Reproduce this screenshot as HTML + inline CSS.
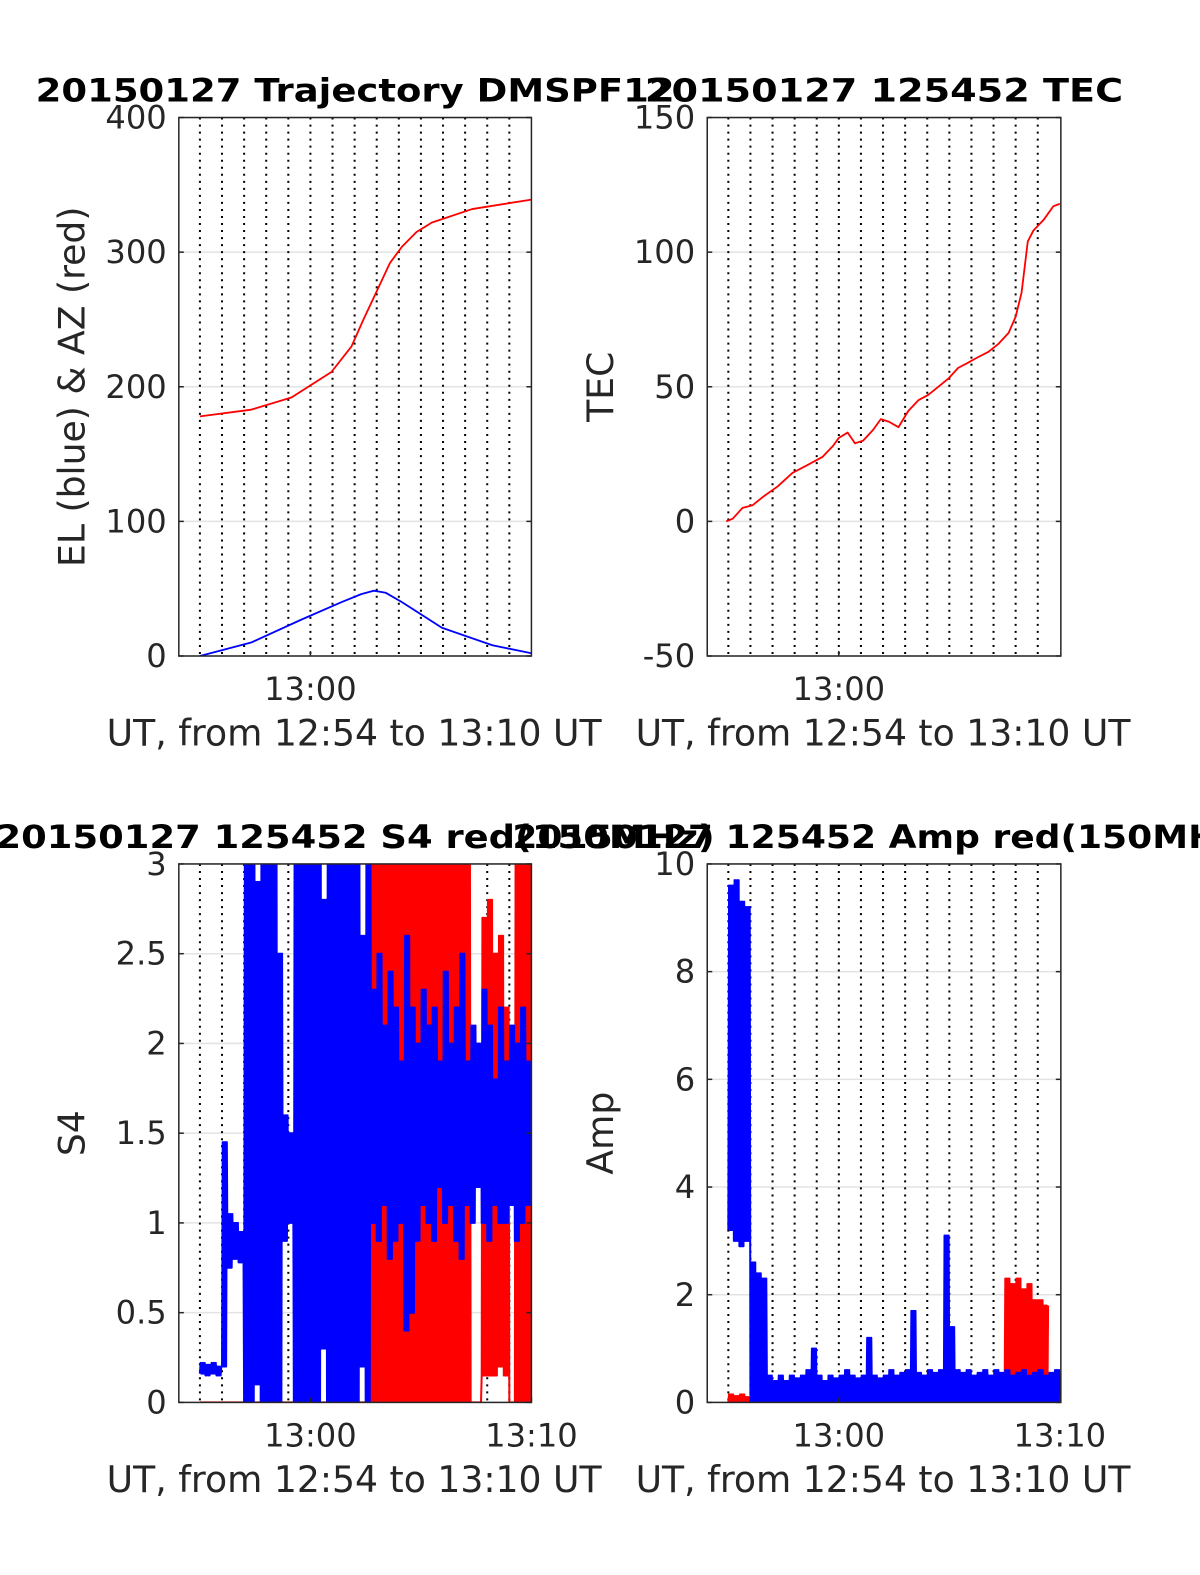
<!DOCTYPE html>
<html><head><meta charset="utf-8"><style>
html,body{margin:0;background:#fff;overflow:hidden;width:1200px;height:1575px;}
svg{display:block;font-family:"DejaVu Sans","Liberation Sans",sans-serif;}
.tk{font-size:32px;fill:#262626;}
.al{font-size:36px;fill:#262626;}
.tt{font-size:32px;font-weight:bold;fill:#000;}
</style></head><body>
<svg id="fig" width="1200" height="1575" viewBox="0 0 1194.5 1567.8" preserveAspectRatio="xMinYMin meet" xmlns="http://www.w3.org/2000/svg">
<defs>
<clipPath id="c1"><rect x="178" y="117" width="351" height="536"/></clipPath>
<clipPath id="c2"><rect x="704" y="117" width="352" height="536"/></clipPath>
<clipPath id="c3"><rect x="178" y="860" width="351" height="536"/></clipPath>
<clipPath id="c4"><rect x="704" y="860" width="352" height="536"/></clipPath>
</defs>
</svg>
<script>
// ---- data (time in minutes relative to 13:00 UT) ----
const azT=[-5,-2.68,-0.86,0.95,1.86,2.4,3,3.6,4.14,4.8,5.5,7.32,10];
const azV=[178,183,192,211,230,250,271,292,304,315,322,332,339];
const elT=[-5,-2.68,-0.41,1.4,2.3,2.86,3.4,4.14,5.95,8.23,10];
const elV=[0,10,27,40,46,48.5,47,40,21,8,2];
const tecT=[-5.09,-4.8,-4.36,-3.9,-3.45,-2.77,-2.1,-1.4,-0.73,-0.27,0,0.4,0.73,1.1,1.55,1.9,2.27,2.7,3.14,3.6,4.05,4.5,4.95,5.4,5.86,6.3,6.77,7.23,7.68,8,8.27,8.55,8.8,9.27,9.7,10];
const tecV=[0,1,5,6,9,13,18,21,24,28,31,33,29,30,34,38,37,35,41,45,47,50,53,57,59,61,63,66,70,76,85,104,108,112,117,118];
// binned noisy series: bins of 0.25 min starting at t=-5
const s4BlueLo=[.16,.15,.16,.15, .2,.75,.8,.78, 0,0,.1,0,0,0,0,.9,1.0,0,0,0,0,0,.3,0,0,0,0,0,0,.2,0, 1.0,.9,1.1,.8,.9,1.0,.4,.5,.9,1.1,1.0,.9,1.2,1.0,1.1,.9,.8,1.1,1.0,1.2,1.0,.9,1.1,1.0,1.0,1.1,.9,1.0,1.1];
const s4BlueHi=[.22,.21,.22,.2, 1.45,1.05,1.0,.95, 3,3,2.9,3,3,3,2.5,1.6,1.5,3,3,3,3,3,2.8,3,3,3,3,3,3,2.6,3, 2.3,2.5,2.1,2.4,2.2,1.9,2.6,2.2,2.0,2.3,2.1,2.2,1.9,2.4,2.0,2.2,2.5,1.9,2.1,2.0,2.3,2.1,1.8,2.2,1.9,2.1,2.0,2.2,1.9];
const s4RedLo=[0,0,0,0,0,0,0,0,0,0,0,0,0,0,0,0,0,0,0,0,0,0,0,0,0,0,0,0,0,0,0, 0,0,0,0,0,0,0,0,0,0,0,0,0,0,0,0,0,0, 0,0, .15,.15,.15,.2,.15, 0, 0,0,0];
const s4RedHi=[0,0,0,0,0,0,0,0,0,0,0,0,0,0,0,0,0,0,0,0,0,0,0,0,0,0,0,0,0,0,0, 3,3,3,3,3,3,3,3,3,3,3,3,3,3,3,3,3,3, 0,0, 2.7,2.8,2.5,2.6,2.2, 0, 3,3,3];
const ampBlueLo=[3.2,3.0,2.9,3.0,0,0,0,0,0,0,0,0,0,0,0,0,0,0,0,0,0,0,0,0,0,0,0,0,0,0,0,0,0,0,0,0,0,0,0,0,0,0,0,0,0,0,0,0,0,0,0,0,0,0,0,0,0,0,0,0,0];
const ampBlueHi=[9.6,9.7,9.3,9.2,2.6,2.4,2.3,0.5,0.4,0.5,0.4,0.5,0.45,0.5,0.6,1.0,0.5,0.4,0.5,0.45,0.5,0.6,0.5,0.45,0.5,1.2,0.5,0.45,0.5,0.6,0.5,0.55,0.6,1.7,0.55,0.5,0.6,0.55,0.6,3.1,1.4,0.6,0.55,0.6,0.5,0.55,0.6,0.5,0.6,0.55,0.6,0.5,0.55,0.6,0.5,0.55,0.6,0.5,0.55,0.6,0.5];
const ampRedLo=[0,0,0,0,null,null,null,null,null,null,null,null,null,null,null,null,null,null,null,null,null,null,null,null,null,null,null,null,null,null,null,null,null,null,null,null,null,null,null,null,null,null,null,null,null,null,null,null,null,null,0,0,0,0,0,0,0,0,null,null,null];
const ampRedHi=[0.15,0.12,0.15,0.1,null,null,null,null,null,null,null,null,null,null,null,null,null,null,null,null,null,null,null,null,null,null,null,null,null,null,null,null,null,null,null,null,null,null,null,null,null,null,null,null,null,null,null,null,null,null,2.3,2.2,2.3,2.1,2.2,1.9,1.9,1.8,null,null,null];
const yTicksTL=[0,100,200,300,400];
const yTicksTR=[-50,0,50,100,150];
const yTicksBL=[0,0.5,1,1.5,2,2.5,3];
const yTicksBR=[0,2,4,6,8,10];
const binStart=-5, binW=0.25;

const svg=document.getElementById('fig');
const NS='http://www.w3.org/2000/svg';
function mk(tag,attrs,parent){const e=document.createElementNS(NS,tag);for(const k in attrs)e.setAttribute(k,attrs[k]);(parent||svg).appendChild(e);return e;}

function axes(name,L,T,W,H,ymin,ymax,yticks,xticks,ylab,title,clip,titleLen){
  const g=mk('g',{});
  
  
  const xs=t=>L+131+22*t;
  const ys=v=>T+H-(v-ymin)/(ymax-ymin)*H;
  mk('rect',{x:L,y:T,width:W,height:H,fill:'#fff'},g);
  yticks.forEach(v=>{mk('line',{x1:L,x2:L+W,y1:ys(v),y2:ys(v),stroke:'#e3e3e3','stroke-width':1.5},g);});
  for(let m=-5;m<=10;m++){const x=xs(m);if(x>L+2&&x<L+W-2)mk('line',{x1:x,x2:x,y1:T,y2:T+H,stroke:'#000','stroke-width':2,'stroke-dasharray':'2 5'},g);}
  const plot=mk('g',{'clip-path':'url(#'+clip+')'},g);
  
  
  mk('rect',{x:L,y:T,width:W,height:H,fill:'none',stroke:'#262626','stroke-width':1.5},g);
  yticks.forEach(v=>{
    mk('line',{x1:L,x2:L+5,y1:ys(v),y2:ys(v),stroke:'#262626','stroke-width':1.5},g);
    mk('line',{x1:L+W-5,x2:L+W,y1:ys(v),y2:ys(v),stroke:'#262626','stroke-width':1.5},g);
    const t=mk('text',{x:L-12,y:ys(v)+11,'text-anchor':'end',class:'tk'},g);t.textContent=String(v);
    
    
  });
  xticks.forEach(m=>{
    const x=xs(m);
    mk('line',{x1:x,x2:x,y1:T+H,y2:T+H-5,stroke:'#262626','stroke-width':1.5},g);
    const t=mk('text',{x:x,y:T+H+44,'text-anchor':'middle',class:'tk'},g);t.textContent=m===0?'13:00':'13:10';
    
    
  });
  const xl=mk('text',{x:L+W/2-1,y:T+H+89,'text-anchor':'middle',class:'al'},g);xl.textContent='UT, from 12:54 to 13:10 UT';
  
  
  const yl=mk('text',{x:0,y:0,'text-anchor':'middle',class:'al',transform:'translate('+(L-94)+','+(T+H/2)+') rotate(-90)'},g);yl.textContent=ylab;
  
  
  const tt=mk('text',{x:L+W/2,y:T-16,'text-anchor':'middle',class:'tt',textLength:titleLen,lengthAdjust:'spacingAndGlyphs'},svg);tt.textContent=title;
  
  
  return {plot,xs,ys};
}
function line(ax,T,V,color,name){
  const p=T.map((t,i)=>ax.xs(t).toFixed(1)+','+ax.ys(V[i]).toFixed(1)).join(' ');
  const e=mk('polyline',{points:p,fill:'none',stroke:color,'stroke-width':1.8,'stroke-linejoin':'round'},ax.plot);
  
  
}
function noisy(ax,lo,hi,color,name){
  let pts=[];const segs=[];
  for(let i=0;i<lo.length;i++){
    if(lo[i]===null){if(pts.length)segs.push(pts);pts=[];continue;}
    const t0=binStart+i*binW;
    for(let k=0;k<8;k++){
      const t=t0+binW*k/8;
      pts.push(ax.xs(t).toFixed(1)+','+ax.ys(k%2?hi[i]:lo[i]).toFixed(1));
    }
  }
  if(pts.length)segs.push(pts);
  segs.forEach(s=>{
    const e=mk('polyline',{points:s.join(' '),fill:'none',stroke:color,'stroke-width':2,'stroke-linejoin':'round'},ax.plot);
    
    
  });
}
const a1=axes('trajectory-chart',178,117,351,536,0,400,yTicksTL,[0],'EL (blue) & AZ (red)','20150127 Trajectory DMSPF12','c1',636);
line(a1,azT,azV,'#ff0000','azimuth-line');
line(a1,elT,elV,'#0000ff','elevation-line');
const a2=axes('tec-chart',704,117,352,536,-50,150,yTicksTR,[0],'TEC','20150127 125452 TEC','c2',476);
line(a2,tecT,tecV,'#ff0000','tec-line');
const a3=axes('s4-chart',178,860,351,536,0,3,yTicksBL,[0,10],'S4','20150127 125452 S4 red(150MHz)','c3',716);
noisy(a3,s4RedLo,s4RedHi,'#ff0000','s4-red-series');
noisy(a3,s4BlueLo,s4BlueHi,'#0000ff','s4-blue-series');
const a4=axes('amp-chart',704,860,352,536,0,10,yTicksBR,[0,10],'Amp','20150127 125452 Amp red(150MHz)','c4',740);
noisy(a4,ampRedLo,ampRedHi,'#ff0000','amp-red-series');
noisy(a4,ampBlueLo,ampBlueHi,'#0000ff','amp-blue-series');
</script>
</body></html>
